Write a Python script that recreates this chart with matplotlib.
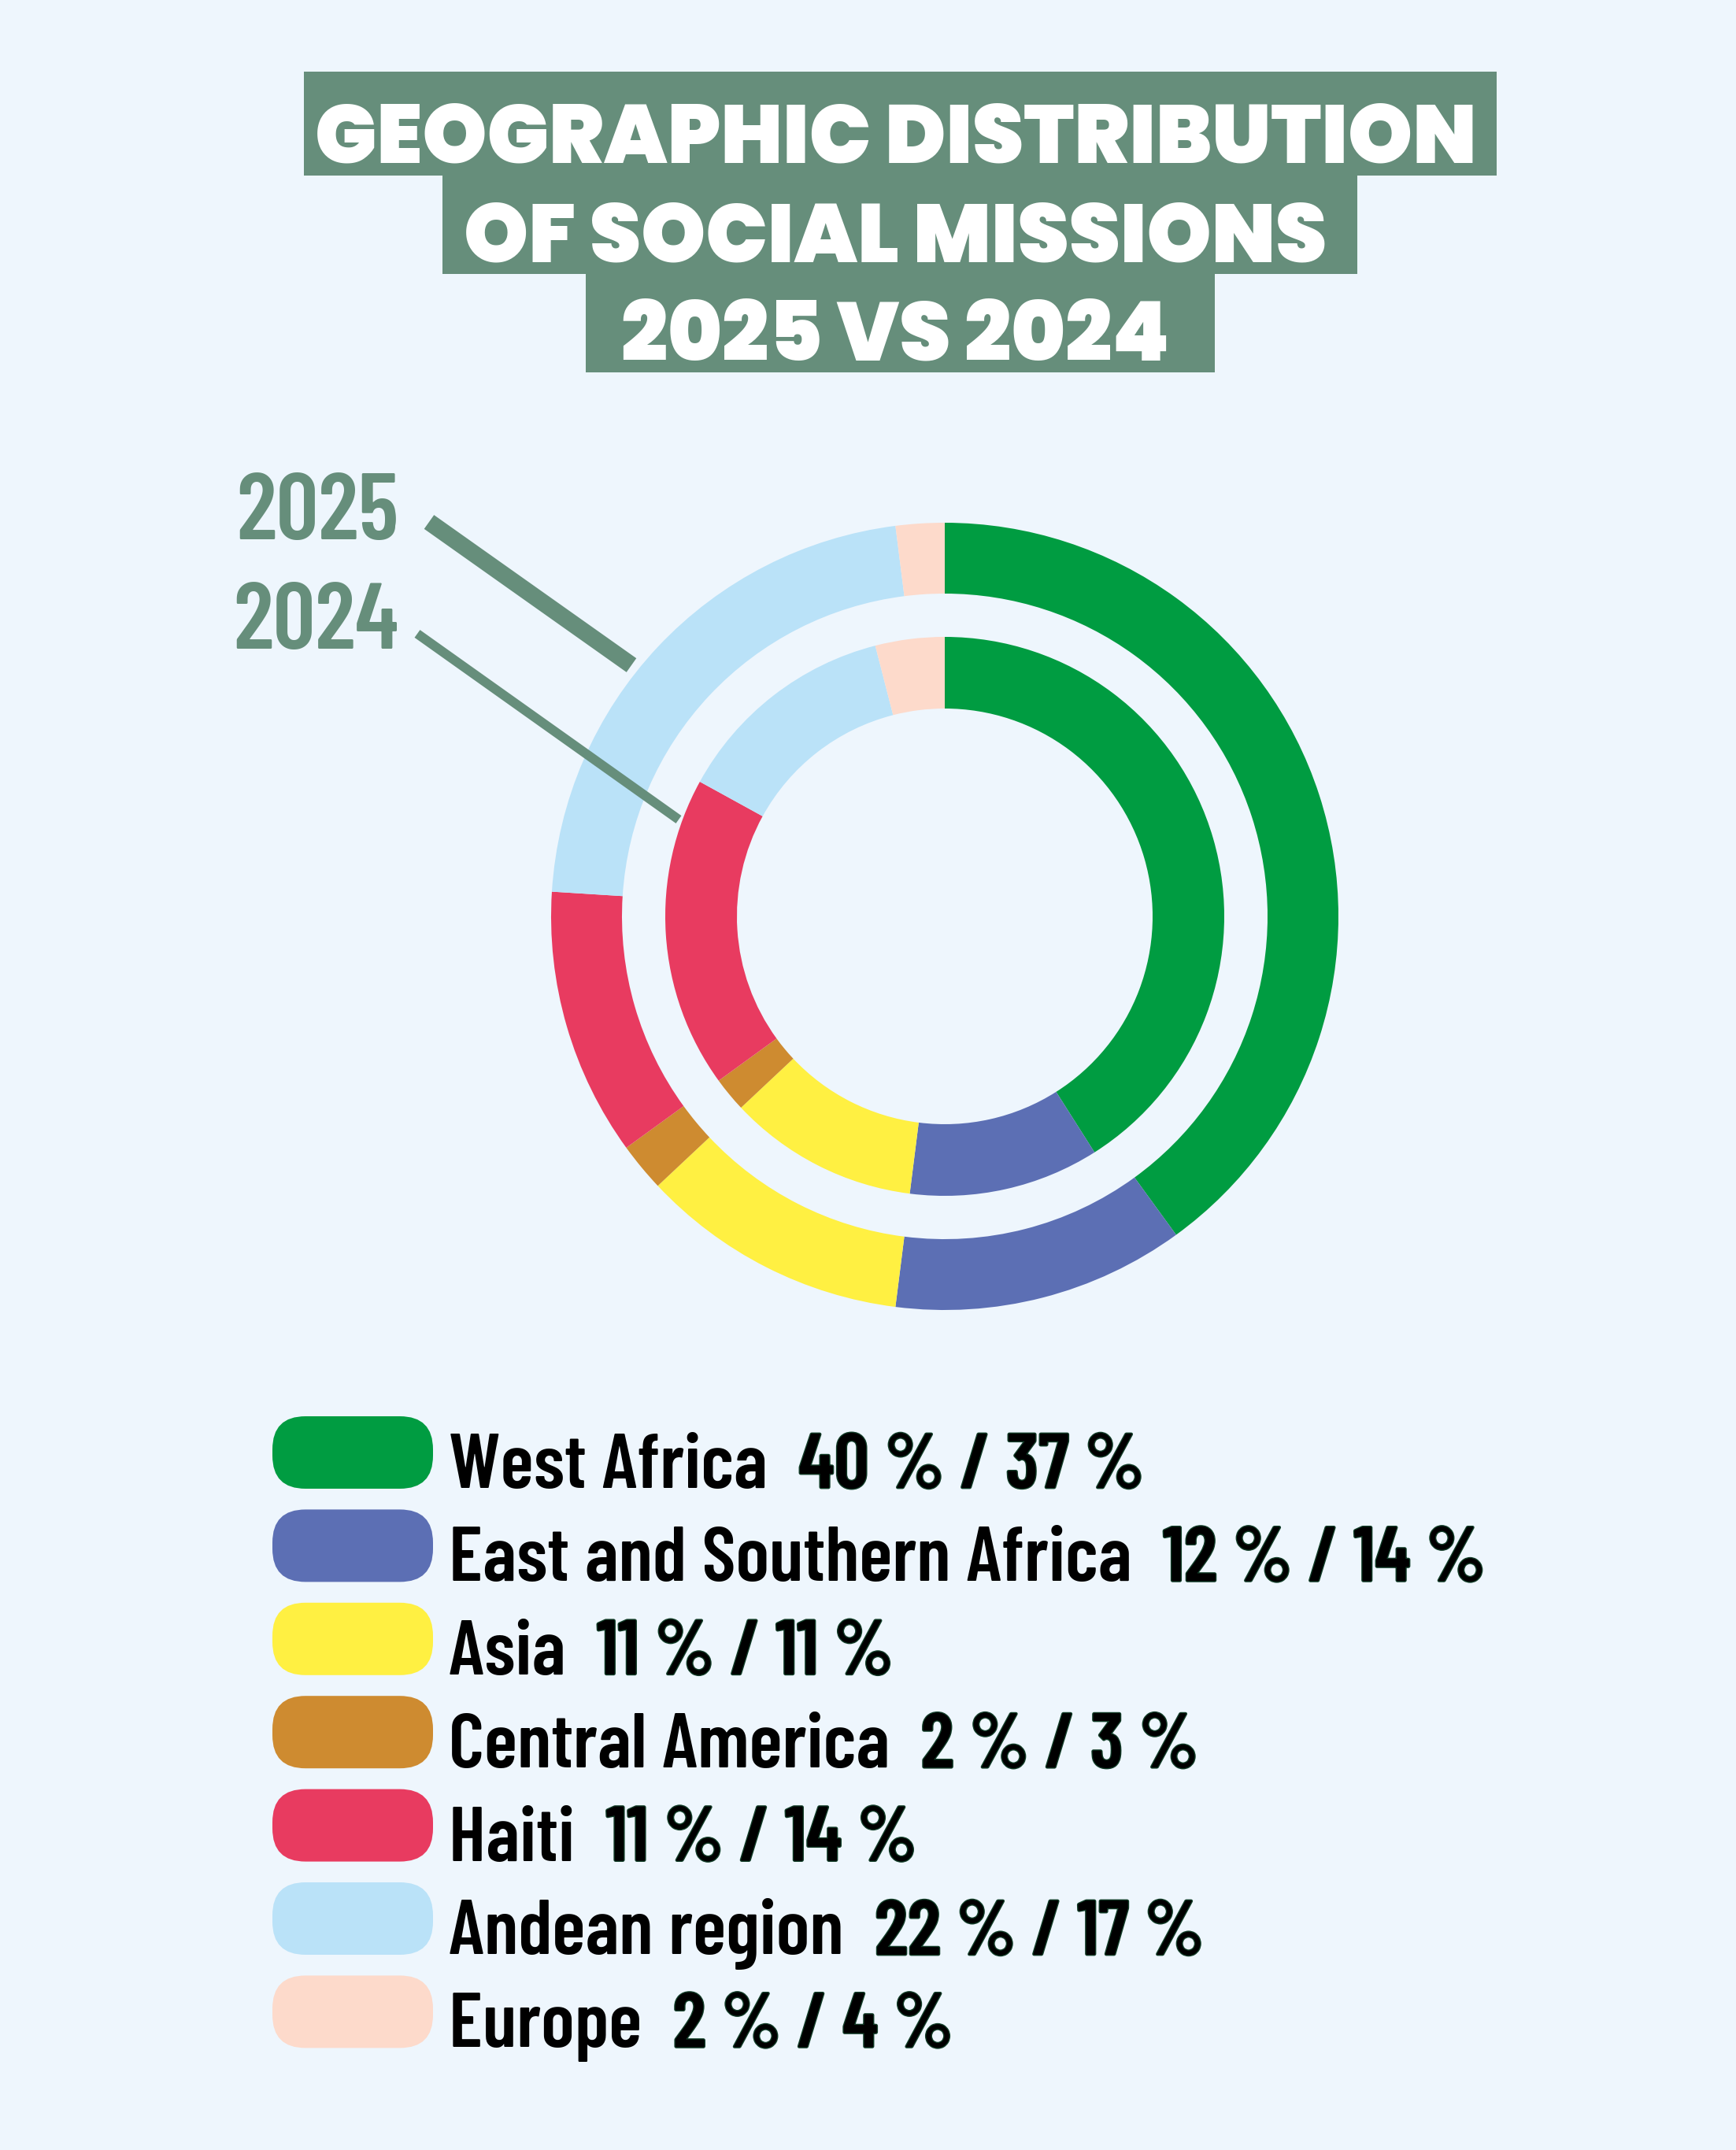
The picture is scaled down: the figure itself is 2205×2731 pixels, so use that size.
import matplotlib
matplotlib.use('Agg')
import matplotlib.pyplot as plt
from matplotlib.patches import Rectangle, FancyBboxPatch
import matplotlib.patheffects as pe

W, H = 2205, 2731

regions = ['West Africa', 'East and Southern Africa', 'Asia', 'Central America',
           'Haiti', 'Andean region', 'Europe']
share_2025 = [40, 12, 11, 2, 11, 22, 2]
# 2024 as printed in the legend
legend_2024 = [37, 14, 11, 3, 14, 17, 4]
# 2024 inner ring as actually drawn in the source graphic (doesn't follow the legend)
ring_2024 = [41, 11, 11, 2, 18, 13, 4]
colors = ['#009C41', '#5C6FB4', '#FFF042', '#CE8B30', '#E83B60', '#BAE2F8', '#FDDACB']
title_lines = ['GEOGRAPHIC DISTRIBUTION', 'OF SOCIAL MISSIONS', '2025 VS 2024']
ring_years = ['2025', '2024']

BG = '#EEF6FD'
SAGE = '#668E7B'
COND = ['Barlow Condensed', 'DejaVu Sans']
WIDE = ['Poppins', 'DejaVu Sans']

fig = plt.figure(figsize=(W / 100, H / 100), dpi=100, facecolor=BG)
ax = fig.add_axes([0, 0, 1, 1])
ax.set_facecolor(BG)

def py(y):
    # pixel row from the top -> data y
    return H - y

# two donut rings: outer = 2025, inner = 2024, clockwise from 12 o'clock
center = (1200, py(1164))
ax.pie(share_2025, colors=colors, radius=500, center=center, startangle=90,
       counterclock=False, wedgeprops=dict(width=90, linewidth=0))
ax.pie(ring_2024, colors=colors, radius=355, center=center, startangle=90,
       counterclock=False, wedgeprops=dict(width=91, linewidth=0))
ax.set_xlim(0, W)
ax.set_ylim(0, H)
ax.axis('off')

# pointer lines to the rings
ax.plot([545, 802], [py(663), py(845)], color=SAGE, lw=15.6, solid_capstyle='butt')
ax.plot([530, 862], [py(805), py(1041)], color=SAGE, lw=8.6, solid_capstyle='butt')
for yb, yr in zip([685, 824], ring_years):
    ax.text(506, py(yb), yr, ha='right', va='baseline', fontsize=86,
            family=COND, fontweight=600, color=SAGE)

# title blocks, font size fitted so the first line is ~1476 px wide
fig.canvas.draw()
r = fig.canvas.get_renderer()
probe = ax.text(0, 0, title_lines[0], fontsize=72, family=WIDE, fontweight=900)
tsize = 72 * 1476 / probe.get_window_extent(r).width
probe.remove()

tops = [91, 223, 348, 473]
box_x = [(386, 1901), (562, 1724), (744, 1543)]
baselines = [206, 332, 457]
for i, line in enumerate(title_lines):
    x0, x1 = box_x[i]
    ax.add_patch(Rectangle((x0, py(tops[i + 1])), x1 - x0, tops[i + 1] - tops[i],
                           color=SAGE, lw=0, zorder=2))
    ax.text((x0 + x1) / 2 - 6, py(baselines[i]), line, ha='center', va='baseline',
            fontsize=tsize, family=WIDE, fontweight=900, color='white', zorder=3)

# legend
for i, name in enumerate(regions):
    top = 1799 + i * 118.4
    ax.add_patch(FancyBboxPatch((346 + 42, py(top + 92) + 42), 204 - 84, 92 - 84,
                                boxstyle='round,pad=42', color=colors[i], lw=0))
    lab = ax.text(570, py(top + 91), name + '  ', ha='left', va='baseline',
                  fontsize=71, family=COND, fontweight=600, color='black')
    ax.annotate(f'{share_2025[i]} % / {legend_2024[i]} %', xy=(1, 0), xycoords=lab,
                ha='left', va='bottom', fontsize=71, family=COND, fontweight=600,
                color='black',
                path_effects=[pe.withStroke(linewidth=2, foreground='#123D28')])

fig.savefig('out.png', dpi=100, facecolor=BG)
